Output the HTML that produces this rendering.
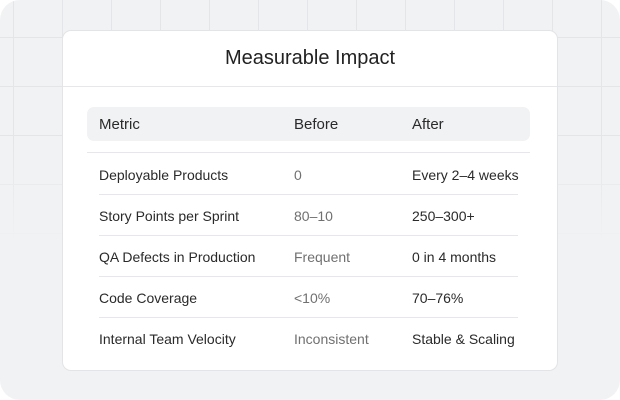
<!DOCTYPE html>
<html><head><style>
html,body{margin:0;padding:0;background:#fff;}
body{width:620px;height:400px;position:relative;overflow:hidden;font-family:"Liberation Sans",sans-serif;}
.bg{position:absolute;left:0;top:0;width:620px;height:400px;background:#f1f2f4;border-radius:20px;overflow:hidden;}
.grid{position:absolute;left:0;top:0;width:620px;height:240px;
background-image:linear-gradient(to right,#e4e5e8 1px,transparent 1px),linear-gradient(to bottom,#e4e5e8 1px,transparent 1px);
background-size:49px 49px;background-position:13px 37px;
-webkit-mask-image:linear-gradient(to bottom,#000 60%,transparent 100%);mask-image:linear-gradient(to bottom,#000 60%,transparent 100%);}
.card{position:absolute;left:62px;top:30px;width:494px;height:339px;background:#fff;border:1px solid #e3e4e8;border-radius:9px;}
.title{position:absolute;left:0;right:0;top:16px;text-align:center;font-size:20px;color:#222;}
.div{position:absolute;left:0;right:0;top:55px;height:1px;background:#e6e7ea;}
.hdr{position:absolute;left:24px;top:76px;width:443px;height:34px;background:#f1f2f4;border-radius:7px;}
.t{position:absolute;white-space:nowrap;color:#2a2a2a;}
.h{font-size:15px;top:85px;}
.r{font-size:14px;}
.g{color:#707070;}
.line{position:absolute;height:1px;background:#e6e7ec;}
</style></head><body>
<div class="bg"><div class="grid"></div></div>
<div class="card">
<div class="title">Measurable Impact</div>
<div class="div"></div>
<div class="hdr"></div>
<div class="t h" style="left:36px">Metric</div>
<div class="t h" style="left:231px">Before</div>
<div class="t h" style="left:349px">After</div>
<div class="line" style="left:24px;width:443px;top:121px"></div>

<div class="t r" style="left:36px;top:136px">Deployable Products</div>
<div class="t r g" style="left:231px;top:136px">0</div>
<div class="t r" style="left:349px;top:136px">Every 2–4 weeks</div>
<div class="line" style="left:36px;width:419px;top:163px"></div>

<div class="t r" style="left:36px;top:177px">Story Points per Sprint</div>
<div class="t r g" style="left:231px;top:177px">80–10</div>
<div class="t r" style="left:349px;top:177px">250–300+</div>
<div class="line" style="left:36px;width:419px;top:204px"></div>

<div class="t r" style="left:36px;top:218px">QA Defects in Production</div>
<div class="t r g" style="left:231px;top:218px">Frequent</div>
<div class="t r" style="left:349px;top:218px">0 in 4 months</div>
<div class="line" style="left:36px;width:419px;top:245px"></div>

<div class="t r" style="left:36px;top:259px">Code Coverage</div>
<div class="t r g" style="left:231px;top:259px">&lt;10%</div>
<div class="t r" style="left:349px;top:259px">70–76%</div>
<div class="line" style="left:36px;width:419px;top:286px"></div>

<div class="t r" style="left:36px;top:300px">Internal Team Velocity</div>
<div class="t r g" style="left:231px;top:300px">Inconsistent</div>
<div class="t r" style="left:349px;top:300px">Stable &amp; Scaling</div>
</div>
</body></html>
